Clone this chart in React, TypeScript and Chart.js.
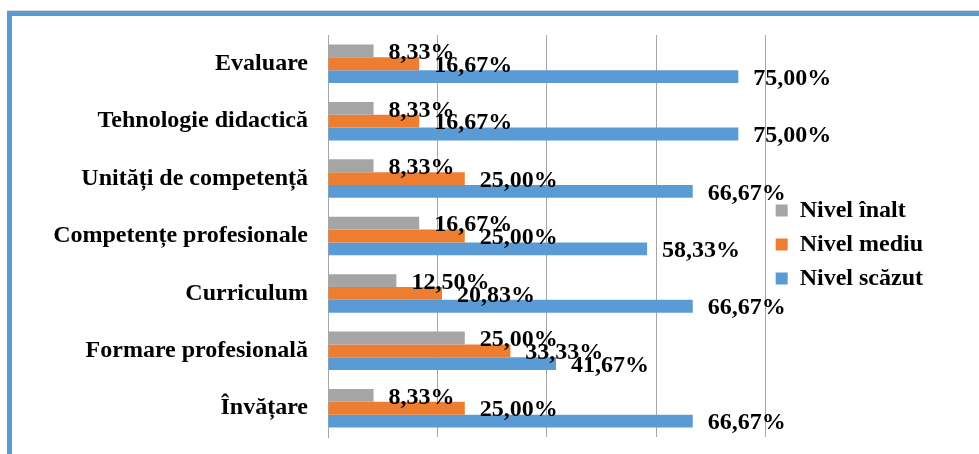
import { useEffect, useRef } from 'react';
import { Chart, registerables } from 'chart.js';

Chart.register(...registerables);

const categories = [
  'Evaluare',
  'Tehnologie didactică',
  'Unități de competență',
  'Competențe profesionale',
  'Curriculum',
  'Formare profesională',
  'Învățare',
];
const seriesNames = ['Nivel înalt', 'Nivel mediu', 'Nivel scăzut'];
const nivelInalt = [8.33, 8.33, 8.33, 16.67, 12.5, 25.0, 8.33];
const nivelMediu = [16.67, 16.67, 25.0, 25.0, 20.83, 33.33, 25.0];
const nivelScazut = [75.0, 75.0, 66.67, 58.33, 66.67, 41.67, 66.67];
const xMin = 0;
const xMax = 80;
const xStep = 20;

const FONT = '"Liberation Serif", "Times New Roman", serif';

const valueLabels = {
  id: 'valueLabels',
  afterDatasetsDraw(chart: any) {
    const ctx = chart.ctx;
    ctx.save();
    ctx.font = `bold 24px ${FONT}`;
    ctx.fillStyle = '#000';
    ctx.textAlign = 'left';
    ctx.textBaseline = 'middle';
    chart.data.datasets.forEach((ds: any, i: number) => {
      const meta = chart.getDatasetMeta(i);
      meta.data.forEach((bar: any, j: number) => {
        const v = ds.data[j] as number;
        ctx.fillText(v.toFixed(2).replace('.', ',') + '%', bar.x + 15, bar.y + 2);
      });
    });
    ctx.restore();
  },
};

export default function App() {
  const ref = useRef<HTMLCanvasElement>(null);
  useEffect(() => {
    if (!ref.current) return;
    const chart = new Chart(ref.current, {
      type: 'bar',
      data: {
        labels: categories,
        datasets: [
          { label: seriesNames[0], data: nivelInalt, backgroundColor: '#A5A5A5' },
          { label: seriesNames[1], data: nivelMediu, backgroundColor: '#ED7D31' },
          { label: seriesNames[2], data: nivelScazut, backgroundColor: '#5B9BD5' },
        ],
      },
      options: {
        indexAxis: 'y',
        responsive: false,
        animation: false,
        datasets: { bar: { categoryPercentage: 0.67, barPercentage: 1.0 } },
        layout: { padding: { top: 35, bottom: 17, left: 0, right: 46 } },
        scales: {
          x: {
            min: xMin,
            max: xMax,
            ticks: { display: false, stepSize: xStep },
            grid: { color: '#A6A6A6', drawTicks: false },
            border: { display: false },
          },
          y: {
            grid: { display: false, drawTicks: false },
            border: { display: true, color: '#A6A6A6' },
            ticks: { color: '#000', padding: 20, font: { family: FONT, size: 24, weight: 'bold' } },
            afterFit: (s: any) => {
              s.width = 328;
              s.paddingTop = 0;
              s.paddingBottom = 0;
            },
          },
        },
        plugins: {
          tooltip: { enabled: false },
          legend: {
            position: 'right',
            align: 'center',
            title: { display: true, text: ' ', font: { size: 1 }, padding: { top: 16, bottom: 0 } },
            labels: {
              boxWidth: 12,
              boxHeight: 12,
              padding: 10,
              color: '#000',
              font: { family: FONT, size: 24, weight: 'bold' },
            },
          },
        },
      },
      plugins: [valueLabels],
    } as any);
    return () => chart.destroy();
  }, []);
  return (
    <div style={{ position: 'absolute', left: 0, top: 0, width: 979, height: 454, background: '#fff', overflow: 'hidden' }}>
      <div
        style={{
          position: 'absolute',
          left: 7,
          top: 11,
          width: 990,
          height: 460,
          borderTop: '5px solid #5B9BD5',
          borderLeft: '5px solid #5B9BD5',
          boxShadow: '0 -1px 0 #D9D9D9',
        }}
      />
      <canvas ref={ref} width={979} height={454} style={{ position: 'absolute', left: 0, top: 0 }} />
    </div>
  );
}
